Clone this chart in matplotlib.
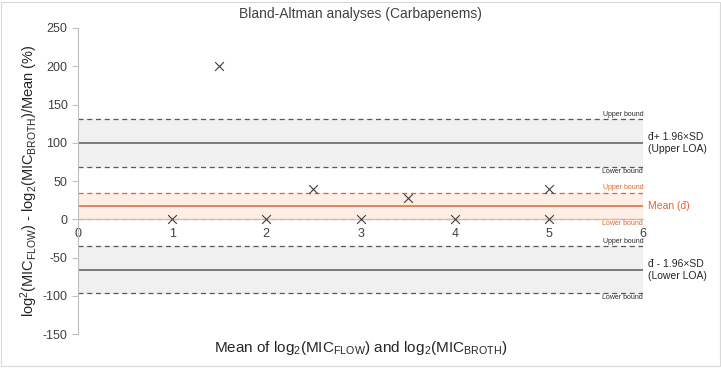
import matplotlib
matplotlib.use('Agg')
import matplotlib.pyplot as plt
from matplotlib.patches import Rectangle

plt.rcParams['font.family'] = ['Liberation Sans', 'DejaVu Sans']
plt.rcParams['mathtext.fontset'] = 'custom'
plt.rcParams['mathtext.rm'] = 'Liberation Sans'
plt.rcParams['mathtext.it'] = 'Liberation Sans'
plt.rcParams['axes.unicode_minus'] = False

# data points
mean_x = [1, 1.5, 2, 2.5, 3, 3.5, 4, 5, 5]
diff_pct = [0, 200, 0, 40, 0, 28, 0, 40, 0]

# reference lines
mean_d = 17
mean_ci = [0, 35]
upper_loa = 100
upper_ci = [69, 131]
lower_loa = -66
lower_ci = [-96, -35]

xticks = [0, 1, 2, 3, 4, 5, 6]
yticks = [-150, -100, -50, 0, 50, 100, 150, 200, 250]

orange = '#e8622c'
dark = '#595959'

fig = plt.figure(figsize=(7.21, 3.68), dpi=100)
ax = fig.add_axes([0.108, 0.092, 0.784, 0.832])

# shaded bands
ax.axhspan(upper_ci[0], upper_ci[1], color='#f0f0f0', zorder=0)
ax.axhspan(lower_ci[0], lower_ci[1], color='#f0f0f0', zorder=0)
ax.axhspan(mean_ci[0], mean_ci[1], color='#fdeee6', zorder=0)

for y in upper_ci + lower_ci:
    ax.axhline(y, color=dark, ls=(0, (4, 3)), lw=0.9, zorder=1)
for y in mean_ci:
    ax.axhline(y, color=orange, ls=(0, (4, 3)), lw=0.9, zorder=1)
ax.axhline(upper_loa, color=dark, lw=1.1, zorder=1)
ax.axhline(lower_loa, color=dark, lw=1.1, zorder=1)
ax.axhline(mean_d, color=orange, lw=1.1, zorder=1)

ax.scatter(mean_x, diff_pct, marker='x', s=40, color='#404040', lw=0.8, zorder=3)

ax.set_xlim(0, 6)
ax.set_ylim(-150, 250)
ax.set_xticks(xticks)
ax.set_yticks(yticks)
ax.spines['top'].set_visible(False)
ax.spines['right'].set_visible(False)
ax.spines['bottom'].set_position(('data', 0))
ax.spines['bottom'].set_color('#bfbfbf')
ax.spines['left'].set_color('#bfbfbf')
ax.tick_params(axis='x', length=0, labelsize=9, colors='#404040', pad=6)
ax.tick_params(axis='y', length=4, direction='out', color='#bfbfbf', labelsize=9, colors='#404040')

ax.set_title('Bland-Altman analyses (Carbapenems)', fontsize=10, color='#404040', pad=7)
ax.set_ylabel(r'log$^{2}$(MIC$_{\mathrm{FLOW}}$) - log$_{2}$(MIC$_{\mathrm{BROTH}}$)/Mean (%)',
              fontsize=10.5, color='#262626', labelpad=2)
fig.text(0.5, 0.055, r'Mean of log$_{2}$(MIC$_{\mathrm{FLOW}}$) and log$_{2}$(MIC$_{\mathrm{BROTH}}$)',
         ha='center', va='center', fontsize=11, color='#262626')

# bound labels
def bound(y, txt, col, above):
    ax.text(6, y + (1.5 if above else -1.5), txt, ha='right', va='bottom' if above else 'top',
            fontsize=5, color=col)

bound(upper_ci[1], 'Upper bound', '#262626', True)
bound(upper_ci[0], 'Lower bound', '#262626', False)
bound(mean_ci[1], 'Upper bound', orange, True)
bound(mean_ci[0], 'Lower bound', orange, False)
bound(lower_ci[1], 'Upper bound', '#262626', True)
bound(lower_ci[0], 'Lower bound', '#262626', False)

ax.text(6.05, upper_loa, 'đ+ 1.96×SD\n(Upper LOA)', ha='left', va='center', fontsize=7.5,
        color='#262626', clip_on=False)
ax.text(6.05, lower_loa, 'đ - 1.96×SD\n(Lower LOA)', ha='left', va='center', fontsize=7.5,
        color='#262626', clip_on=False)
ax.text(6.05, mean_d, 'Mean (đ)', ha='left', va='center', fontsize=7.5, color=orange,
        clip_on=False)

fig.patches.append(Rectangle((0.002, 0.005), 0.996, 0.99, transform=fig.transFigure,
                             fill=False, edgecolor='#d9d9d9', lw=0.8))

fig.savefig('out.png', dpi=100)
